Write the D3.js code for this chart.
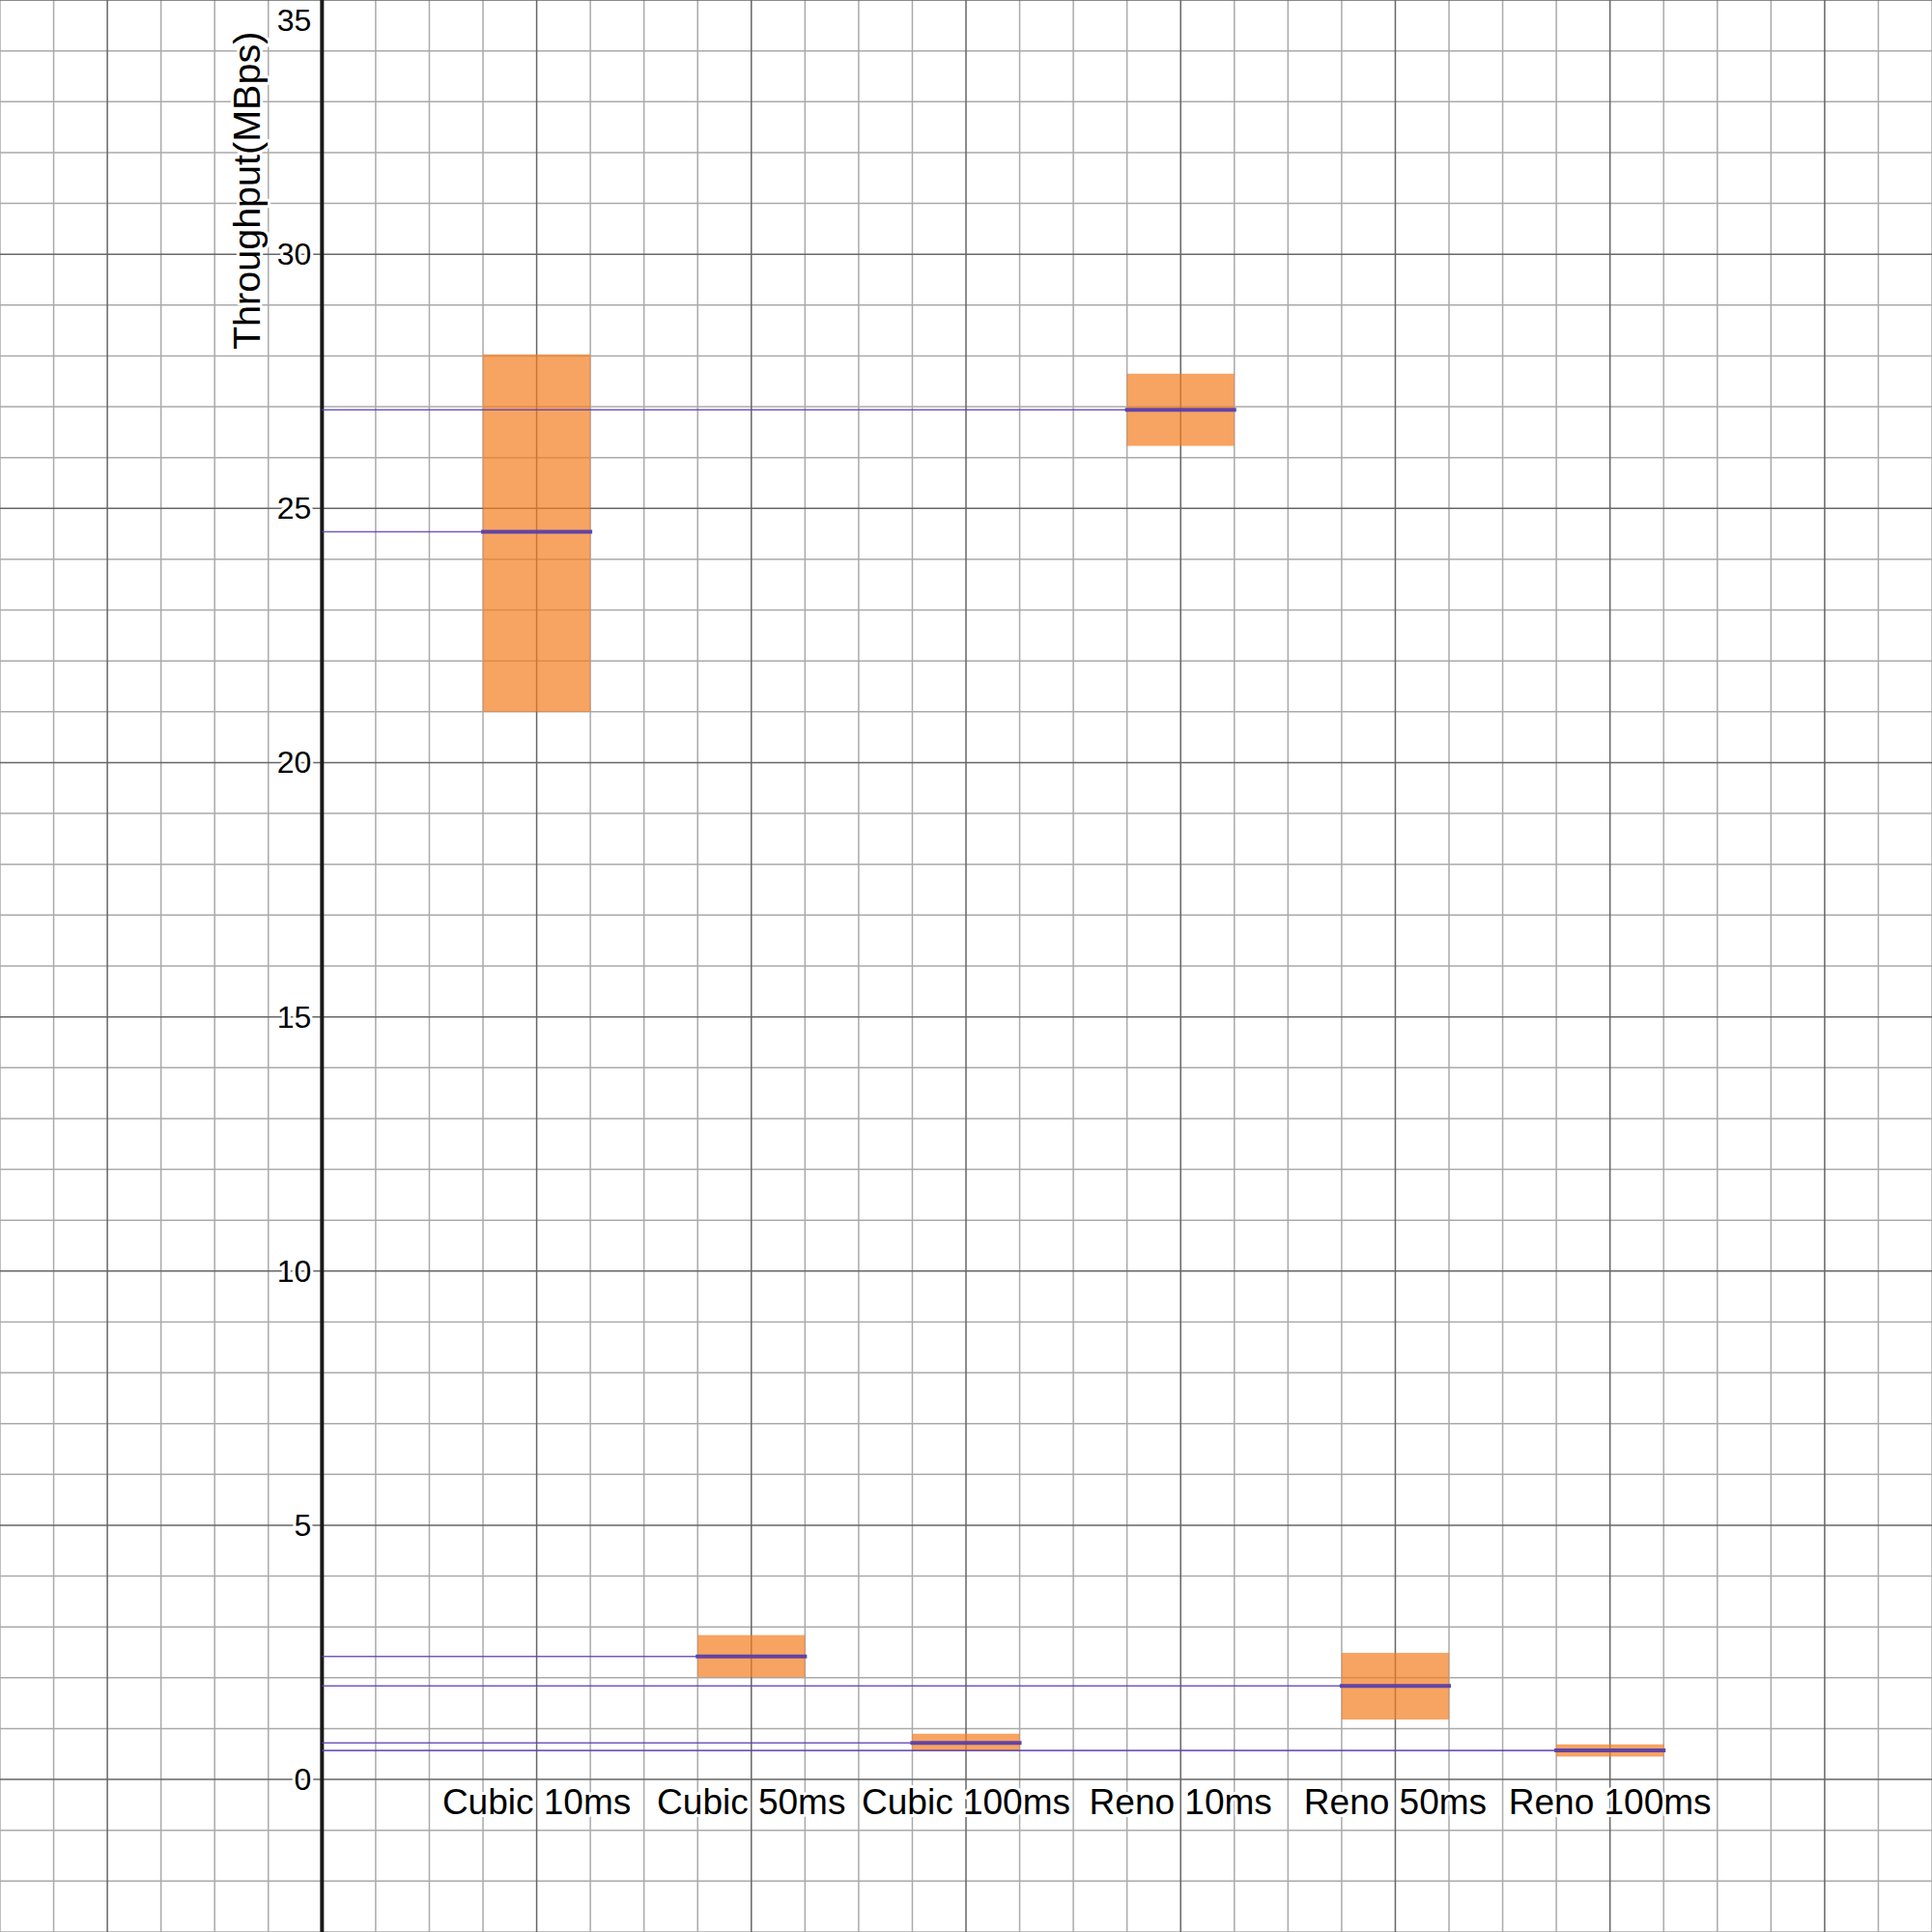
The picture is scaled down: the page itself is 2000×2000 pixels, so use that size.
<!DOCTYPE html>
<html>
<head>
<meta charset="utf-8">
<script src="https://cdn.jsdelivr.net/npm/d3@7"></script>
<style>
  html, body { margin: 0; padding: 0; background: #fff; }
  svg { display: block; }
  text { font-family: "Liberation Sans", Arial, sans-serif; }
</style>
</head>
<body>
<script>
// ---- data ----
const categories = ["Cubic 10ms", "Cubic 50ms", "Cubic 100ms", "Reno 10ms", "Reno 50ms", "Reno 100ms"];
const boxLow  = [21.0, 2.01, 0.56, 26.23, 1.18, 0.45];
const boxHigh = [28.03, 2.84, 0.90, 27.65, 2.49, 0.69];
const midVals = [24.54, 2.42, 0.72, 26.94, 1.84, 0.57];
const yTicks = [0, 5, 10, 15, 20, 25, 30, 35];
const yTitle = "Throughput(MBps)";

// ---- layout ----
const W = 2000, H = 2000;
const x = d3.scaleLinear().domain([-1.5, 7.5]).range([0, W]);
const y = d3.scaleLinear().domain([-3, 35]).range([H, 0]);

const svg = d3.select("body").append("svg").attr("width", W).attr("height", H);
svg.append("rect").attr("width", W).attr("height", H).attr("fill", "#fff");

// grid
const minorX = d3.range(-1.5, 7.5001, 0.25).filter(v => Math.abs(v - Math.round(v)) > 1e-6);
const majorX = d3.range(-1, 8, 1).filter(v => v !== 0);
const minorY = d3.range(-3, 35.001, 1).filter(v => v % 5 !== 0);
const majorY = d3.range(-0, 35.001, 5);

const g = svg.append("g");
g.selectAll(".mx").data(minorX).join("line")
  .attr("x1", d => x(d)).attr("x2", d => x(d)).attr("y1", 0).attr("y2", H)
  .attr("stroke", "#aaaaaa").attr("stroke-width", 1.5);
g.selectAll(".my").data(minorY).join("line")
  .attr("y1", d => y(d)).attr("y2", d => y(d)).attr("x1", 0).attr("x2", W)
  .attr("stroke", "#aaaaaa").attr("stroke-width", 1.5);
g.selectAll(".Mx").data(majorX).join("line")
  .attr("x1", d => x(d)).attr("x2", d => x(d)).attr("y1", 0).attr("y2", H)
  .attr("stroke", "#666666").attr("stroke-width", 1.5);
g.selectAll(".My").data(majorY).join("line")
  .attr("y1", d => y(d)).attr("y2", d => y(d)).attr("x1", 0).attr("x2", W)
  .attr("stroke", "#666666").attr("stroke-width", 1.5);

// y axis line
svg.append("line").attr("x1", x(0)).attr("x2", x(0)).attr("y1", 0).attr("y2", H)
  .attr("stroke", "#1a1a1a").attr("stroke-width", 4);

// data
const rows = categories.map((c, i) => ({ c, i: i + 1, lo: boxLow[i], hi: boxHigh[i], m: midVals[i] }));
const hw = 0.25;

svg.append("g").selectAll("rect").data(rows).join("rect")
  .attr("x", d => x(d.i - hw)).attr("width", d => x(d.i + hw) - x(d.i - hw))
  .attr("y", d => y(d.hi)).attr("height", d => y(d.lo) - y(d.hi))
  .attr("fill", "#f47c20").attr("fill-opacity", 0.7);

svg.append("g").selectAll("line").data(rows).join("line")
  .attr("x1", x(0)).attr("x2", d => x(d.i - hw))
  .attr("y1", d => y(d.m)).attr("y2", d => y(d.m))
  .attr("stroke", "#5b3fb0").attr("stroke-opacity", 0.85).attr("stroke-width", 1.6);

svg.append("g").selectAll("line").data(rows).join("line")
  .attr("x1", d => x(d.i - hw)).attr("x2", d => x(d.i + hw))
  .attr("y1", d => y(d.m)).attr("y2", d => y(d.m))
  .attr("stroke", "#5a3fa8").attr("stroke-opacity", 0.95).attr("stroke-width", 4)
  .attr("stroke-linecap", "square");

// labels with white halo
function halo(sel) {
  return sel.attr("stroke", "#fff").attr("stroke-width", 6).attr("stroke-linejoin", "round")
    .attr("paint-order", "stroke").attr("fill", "#000");
}

halo(svg.append("g").selectAll("text").data(yTicks).join("text")
  .attr("x", x(0) - 11)
  .attr("y", d => Math.max(y(d), 21))
  .attr("text-anchor", "end").attr("dominant-baseline", "central")
  .attr("font-size", 32).text(d => d));

halo(svg.append("g").selectAll("text").data(rows).join("text")
  .attr("x", d => x(d.i)).attr("y", y(0) + 36)
  .attr("text-anchor", "middle").attr("font-size", 37).text(d => d.c));

halo(svg.append("text")
  .attr("transform", `translate(${x(0) - 64},${y(31.25)}) rotate(-90)`)
  .attr("text-anchor", "middle").attr("font-size", 39.5).text(yTitle));
</script>
</body>
</html>
